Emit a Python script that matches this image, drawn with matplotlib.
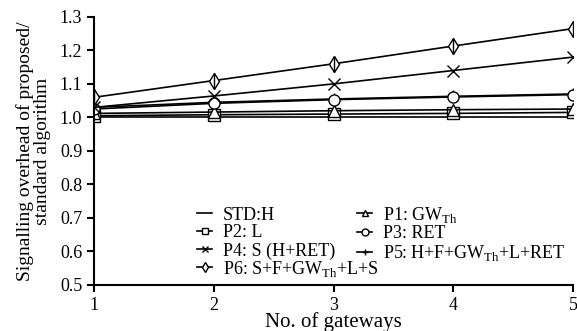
import matplotlib.pyplot as plt
from matplotlib.lines import Line2D

plt.rcParams["font.family"] = ["Liberation Serif", "DejaVu Serif"]
plt.rcParams["mathtext.fontset"] = "custom"
plt.rcParams["mathtext.rm"] = "Liberation Serif"

gateways = [1, 2, 3, 4, 5]
std_h = [1.0, 1.0, 1.0, 1.0, 1.0]
p1 = [1.012, 1.016, 1.02, 1.023, 1.025]
p2 = [1.005, 1.008, 1.01, 1.012, 1.015]
p3 = [1.025, 1.042, 1.053, 1.061, 1.068]
p4 = [1.03, 1.064, 1.10, 1.14, 1.18]
p5 = [1.03, 1.045, 1.055, 1.063, 1.07]
p6 = [1.06, 1.11, 1.16, 1.213, 1.265]

fig = plt.figure(figsize=(5.77, 3.31), dpi=100)
ax = fig.add_axes([0.163, 0.139, 0.830, 0.810])

mk = dict(color="black", lw=1.2, markerfacecolor="white", markeredgecolor="black", markersize=8)
ax.plot(gateways, std_h, **mk)
ax.plot(gateways, p2, marker="s", **mk)
ax.plot(gateways, p1, marker="^", **mk)
ax.plot(gateways, p5, marker="+", **mk)
ax.plot(gateways, p3, marker="o", **mk)
ax.plot(gateways, p4, marker="x", **mk)
ax.plot(gateways, p6, marker="d", **mk)
ax.plot(gateways, p6, marker="|", ls="none", color="black", markersize=11)

def h(m):
    return Line2D([], [], marker=m, color="black", lw=1.2, markerfacecolor="white", markersize=5)

leg_kw = dict(frameon=False, fontsize=13, handlelength=0.85, handletextpad=0.6,
              labelspacing=0.05, borderpad=0, borderaxespad=0)
handles = [h(None), h("s"), h("x"), h("^"), h("o"), h("+")]
labels = ["STD:H", "P2: L", "P4: S (H+RET)",
          r"P1: GW$_{\rm Th}$", "P3: RET", r"P5: H+F+GW$_{\rm Th}$+L+RET"]
leg1 = ax.legend(handles, labels, ncol=2, loc="upper left", bbox_to_anchor=(0.215, 0.30),
                 columnspacing=1.2, **leg_kw)
ax.add_artist(leg1)
ax.legend([h("d")], [r"P6: S+F+GW$_{\rm Th}$+L+S"], loc="upper left",
          bbox_to_anchor=(0.215, 0.098), **leg_kw)

ax.set_xlim(1, 5)
ax.set_ylim(0.5, 1.3)
ax.set_xticks(gateways)
ax.set_yticks([0.5, 0.6, 0.7, 0.8, 0.9, 1.0, 1.1, 1.2, 1.3])
ax.set_yticklabels(["0.5", "0.6", "0.7", "0.8", "0.9", "1.0", "1.1", "1.2", "1.3"])
ax.spines["top"].set_visible(False)
ax.spines["right"].set_visible(False)
ax.spines["left"].set_linewidth(1.5)
ax.spines["bottom"].set_linewidth(1.5)
ax.tick_params(labelsize=13, width=1.5, length=5)
ax.set_xlabel("No. of gateways", fontsize=15, labelpad=-1)
ax.set_ylabel("Signalling overhead of proposed/\nstandard algorithm", fontsize=14,
              linespacing=1.05, labelpad=6)

fig.savefig("out.png", dpi=100)
